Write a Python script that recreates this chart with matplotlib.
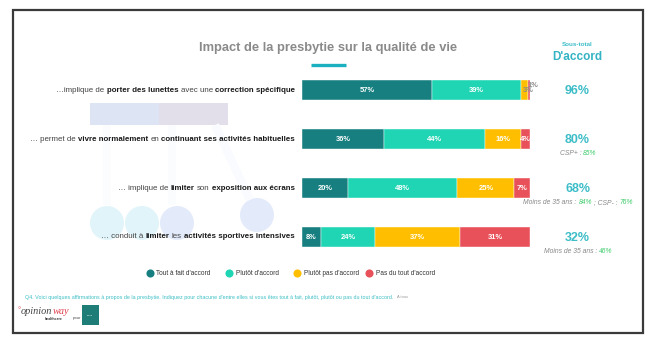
import matplotlib
matplotlib.use("Agg")
import matplotlib.pyplot as plt
from matplotlib.patches import Rectangle, Circle

plt.rcParams['font.family'] = ['Liberation Sans', 'DejaVu Sans']

# data
statements = [
    [("…implique de", False), ("porter des lunettes", True), ("avec une", False), ("correction spécifique", True)],
    [("… permet de", False), ("vivre normalement", True), ("en", False), ("continuant ses activités habituelles", True)],
    [("… implique de", False), ("limiter", True), ("son", False), ("exposition aux écrans", True)],
    [("… conduit à", False), ("limiter", True), ("les", False), ("activités sportives intensives", True)],
]
tout_a_fait = [57, 36, 20, 8]
plutot = [39, 44, 48, 24]
plutot_pas = [3, 16, 25, 37]
pas_du_tout = [1, 4, 7, 31]
series_names = ["Tout à fait d'accord", "Plutôt d'accord", "Plutôt pas d'accord", "Pas du tout d'accord"]
colors = ["#177F80", "#1FD5B4", "#FFBF00", "#E8505A"]
notes = [
    None,
    [("CSP+ : ", "grey"), ("85%", "green")],
    [("Moins de 35 ans : ", "grey"), ("84%", "green"), (" ; CSP- : ", "grey"), ("76%", "green")],
    [("Moins de 35 ans : ", "grey"), ("46%", "green")],
]
title = "Impact de la presbytie sur la qualité de vie"
footnote = ("Q4. Voici quelques affirmations à propos de la presbytie. Indiquez pour chacune d'entre elles "
            "si vous êtes tout à fait, plutôt, plutôt ou pas du tout d'accord.")

W, H = 657, 345
fig = plt.figure(figsize=(W / 100, H / 100), dpi=100)
bg = fig.add_axes([0, 0, 1, 1])
bg.set_xlim(0, W)
bg.set_ylim(H, 0)
bg.axis('off')
renderer = fig.canvas.get_renderer()

# faint background decoration
bg.add_patch(Rectangle((90, 103), 69, 22, color="#DDE5F5", lw=0))
bg.add_patch(Rectangle((159, 103), 69, 22, color="#E3DFEA", lw=0))
for x0 in (103, 168):
    bg.add_patch(Rectangle((x0, 125), 8, 80, color="#FAFCFE", lw=0))
bg.plot([215, 250], [125, 200], color="#F9FBFE", lw=6, solid_capstyle='butt')
for (cx, cy), c in zip([(107, 223), (142, 223), (177, 223), (257, 215)],
                       ["#E0F4F9", "#E0F4F9", "#E3EAFA", "#E3EAFA"]):
    bg.add_patch(Circle((cx, cy), 17, color=c, lw=0))

# frame
bg.add_patch(Rectangle((13, 10), 630, 323, fill=False, ec="#3A3A3A", lw=1.6))

# title
bg.text(328, 48, title, ha='center', va='center', fontsize=9.3, fontweight='bold', color="#8A8A8A")
bg.plot([311, 346], [65, 65], color="#1AB0C0", lw=2.4, solid_capstyle='butt')
bg.text(577.5, 45, "Sous-total", ha='center', va='center', fontsize=4.5, fontweight='bold', color="#3DBDC8")
bg.text(577.5, 57, "D'accord", ha='center', va='center', fontsize=8.5, fontweight='bold', color="#33B3C3")


def width_of(s, **kw):
    t = bg.text(0, 0, s, **kw)
    w = t.get_window_extent(renderer).width
    t.remove()
    return w


def mixed_text(parts, x, y, align, size, sep=True, italic=False):
    kws = []
    for s, p in parts:
        kw = dict(fontsize=size, va='center')
        if isinstance(p, bool):
            kw['fontweight'] = 'bold' if p else 'normal'
            kw['color'] = "#1A1A1A" if p else "#444444"
        else:
            kw['color'] = "#888888" if p == "grey" else "#3CCB6A"
        if italic:
            kw['fontstyle'] = 'italic'
        kws.append(kw)
    space = width_of("| |", fontsize=size) - width_of("||", fontsize=size) if sep else 0
    widths = [width_of("|" + s + "|", **kw) - width_of("||", **kw) for (s, _), kw in zip(parts, kws)]
    total = sum(widths) + space * (len(parts) - 1)
    x0 = x - total if align == 'right' else x - total / 2
    for (s, _), kw, w in zip(parts, kws, widths):
        bg.text(x0, y, s, ha='left', **kw)
        x0 += w + space


# bars
row_y = [90.3, 139.2, 188.1, 237]
ax = fig.add_axes([302.3 / W, 1 - 261.5 / H, 228 / W, 195.7 / H])
ax.set_xlim(0, 100)
ax.set_ylim(3.5, -0.5)
ax.axis('off')
ax.patch.set_alpha(0)

series = [tout_a_fait, plutot, plutot_pas, pas_du_tout]
left = [0, 0, 0, 0]
for vals, c in zip(series, colors):
    ax.barh(range(4), vals, left=left, height=0.4, color=c, edgecolor="white", lw=0.3)
    for i, v in enumerate(vals):
        xc = left[i] + v / 2
        if v >= 4:
            ax.text(xc, i, f"{v}%", ha='center', va='center', fontsize=5.4, fontweight='bold', color="white")
        else:
            dy = 0 if v == plutot_pas[i] else 5
            ax.annotate(f"{v}%", (xc, i), xytext=(3.5, dy), textcoords='offset pixels',
                        ha='center', va='center', fontsize=5.4, fontweight='bold', color="#8C8C8C")
    left = [l + v for l, v in zip(left, vals)]

for i, parts in enumerate(statements):
    mixed_text(parts, 295, row_y[i], 'right', 5.7)
    total = tout_a_fait[i] + plutot[i]
    bg.text(577.5, row_y[i] + 1, f"{total}%", ha='center', va='center', fontsize=9, fontweight='bold', color="#3DBDC8")
    if notes[i]:
        mixed_text(notes[i], 578, row_y[i] + 14.5, 'center', 4.9, sep=False, italic=True)

# legend
leg_x = [150, 229, 297, 369]
for x, name, c in zip(leg_x, series_names, colors):
    bg.scatter([x], [273], s=34, color=c, lw=0)
    bg.text(x + 6.5, 273.5, name, ha='left', va='center', fontsize=4.7, color="#333333")

# footnote
bg.text(25, 297, footnote, ha='left', va='center', fontsize=3.9, color="#3CBFC5")
bg.text(397, 297.5, "A tous", ha='left', va='center', fontsize=2.9, color="#999999")

# logos
bg.text(18, 311, "°", ha='left', va='center', fontsize=5.5, color="#E0404A")
opinion = bg.text(21, 311, "opinion", ha='left', va='center', fontsize=7.4, fontstyle='italic',
                  family='Liberation Serif', color="#444444")
ow = opinion.get_window_extent(renderer).width
bg.text(21 + ow, 311, "way", ha='left', va='center', fontsize=7.4, fontstyle='italic',
        family='Liberation Serif', color="#E0404A")
bg.text(63, 318.5, "healthcare", ha='right', va='center', fontsize=2.5, fontweight='bold', color="#333333")
bg.text(73, 318.5, "pour", ha='left', va='center', fontsize=3.2, color="#555555")
bg.add_patch(Rectangle((82, 305), 17, 20, color="#1E7D76", lw=0))
bg.text(90.5, 315, "Vision", ha='center', va='center', fontsize=1.6, color="white")

fig.savefig("out.png", dpi=100)
